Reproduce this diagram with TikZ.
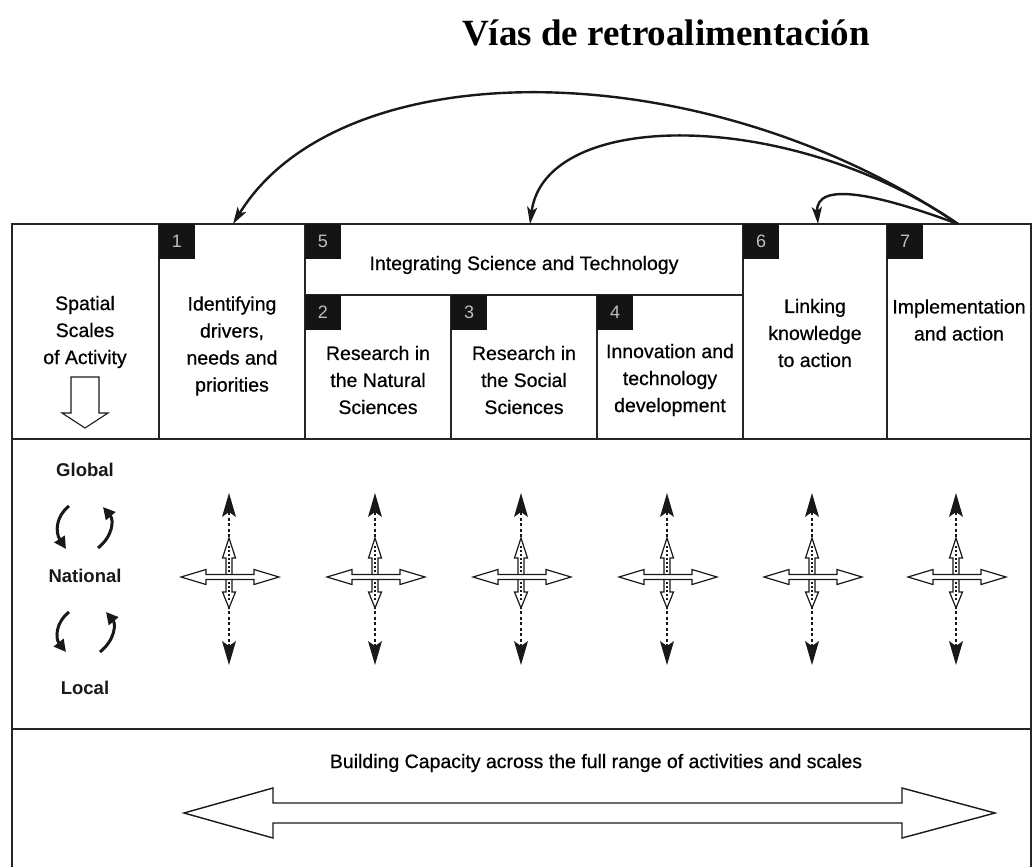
\documentclass[tikz,border=0pt]{standalone}
\usepackage{fontspec}
\setmainfont{Liberation Sans}
\newfontfamily\boxfont[FakeBold=0.6]{Liberation Sans}
\newfontfamily\titlefont{Liberation Serif}
\usetikzlibrary{arrows.meta}
\begin{document}
\begin{tikzpicture}[x=1pt,y=-1pt,
  frame/.style={line width=1.6pt, draw=black!85},
  boxtext/.style={align=center, font=\boxfont\fontsize{19.5}{27}\selectfont, inner sep=0pt, text=black},
  numsq/.style={fill=black!92, minimum width=36pt, minimum height=35pt, inner sep=0pt, text=black!25, font=\fontsize{18}{18}\selectfont},
  scaletext/.style={font=\bfseries\fontsize{18.5}{18.5}\selectfont, inner sep=0pt, text=black!90},
  feedback/.style={line width=2.4pt, draw=black!90, -{Stealth[length=17pt,width=10pt,inset=4pt]}},
  cycarrow/.style={line width=3pt, draw=black!90, -{Triangle[length=12pt,width=12pt]}},
  hollow/.style={draw=black!90, line width=1.3pt, fill=white},
  vdots/.style={line width=1.7pt, draw=black!90, dash pattern=on 3pt off 2.5pt},
]
\useasboundingbox (0,0) rectangle (1033,867);
\fill[white] (0,0) rectangle (1033,867);

% title
\node[font=\titlefont\bfseries\fontsize{37}{37}\selectfont, inner sep=0pt] (title) at (666,33) {Vías de retroalimentación};

% frame and grid
\draw[frame] (12,867) -- (12,224) -- (1031,224) -- (1031,867);
\draw[frame] (12,439) -- (1031,439);
\draw[frame] (12,729) -- (1031,729);
\draw[frame] (159,224) -- (159,439);
\draw[frame] (305,224) -- (305,439);
\draw[frame] (743,224) -- (743,439);
\draw[frame] (887,224) -- (887,439);
\draw[frame] (305,295) -- (743,295);
\draw[frame] (451,295) -- (451,439);
\draw[frame] (597,295) -- (597,439);

% number squares
\node[numsq] (n1) at (177,241.5) {1};
\node[numsq] (n5) at (323,241.5) {5};
\node[numsq] (n2) at (323,312.5) {2};
\node[numsq] (n3) at (469,312.5) {3};
\node[numsq] (n4) at (615,312.5) {4};
\node[numsq] (n6) at (761,241.5) {6};
\node[numsq] (n7) at (905,241.5) {7};

% box texts
\node[boxtext] (spatial) at (85,332) {Spatial\\Scales\\of Activity};
\node[boxtext] (identify) at (232,346) {Identifying\\drivers,\\needs and\\priorities};
\node[boxtext] (integr) at (524,265) {Integrating Science and Technology};
\node[boxtext] (natural) at (378,380) {Research in\\the Natural\\Sciences};
\node[boxtext] (social) at (524,380) {Research in\\the Social\\Sciences};
\node[boxtext] (innov) at (670,380) {Innovation and\\technology\\development};
\node[boxtext] (linking) at (815,333) {Linking\\knowledge\\to action};
\node[boxtext] (impl) at (959,320) {Implementation\\and action};

% spatial down arrow
\draw[hollow, line width=1.1pt] (71,377) -- (99,377) -- (99,413) -- (108,413) -- (85,428) -- (62,413) -- (71,413) -- cycle;

% scale labels
\node[scaletext] (global) at (85,470) {Global};
\node[scaletext] (national) at (85,576) {National};
\node[scaletext] (local) at (85,688) {Local};

% cycle arrows
\draw[cycarrow] (69,506) .. controls (56,516) and (55,532) .. (66,549);
\draw[cycarrow] (98,548) .. controls (113,536) and (114,520) .. (103,507);
\draw[cycarrow] (69,612) .. controls (56,622) and (55,638) .. (66,652);
\draw[cycarrow] (100,652) .. controls (115,640) and (116,624) .. (106,612);

% crosses
\foreach \c in {229,375,521,667,812,956} {
  \draw[vdots] (\c,512) -- (\c,646);
  \fill[black!90] ({\c},493) -- ({\c+7},517) -- ({\c},512) -- ({\c-7},517) -- cycle;
  \fill[black!90] ({\c},665) -- ({\c+7},641) -- ({\c},646) -- ({\c-7},641) -- cycle;
  \draw[hollow, line width=1.2pt] ({\c},538) -- ({\c+6.5},558) -- ({\c+3},558) -- ({\c+3},592) -- ({\c+6.5},592) -- ({\c},608) -- ({\c-6.5},592) -- ({\c-3},592) -- ({\c-3},558) -- ({\c-6.5},558) -- cycle;
  \draw[line width=1.5pt, draw=black!90, dash pattern=on 2pt off 2pt] ({\c},546) -- ({\c},601);
  \draw[hollow, line width=1.2pt] ({\c-48},577) -- ({\c-23},569.5) -- ({\c-23},574.5) -- ({\c+25},574.5) -- ({\c+25},569.5) -- ({\c+50},577) -- ({\c+25},584.5) -- ({\c+25},579.5) -- ({\c-23},579.5) -- ({\c-23},584.5) -- cycle;
}

% capacity
\node[boxtext] (capacity) at (596,763) {Building Capacity across the full range of activities and scales};
\draw[hollow, line width=1.4pt] (184,813) -- (273,788) -- (273,803) -- (902,803) -- (902,788) -- (995,813) -- (902,838) -- (902,823) -- (273,823) -- (273,838) -- cycle;

% feedback arcs
\coordinate (apex) at (958,224);
\coordinate (to1) at (233,224);
\coordinate (to5) at (530,224);
\coordinate (to6) at (818,224);
\draw[feedback] (apex) .. controls (700,50) and (340,50) .. (to1);
\draw[feedback] (apex) .. controls (790,108) and (545,108) .. (to5);
\draw[feedback] (apex) .. controls (880,195) and (815,180) .. (to6);
\end{tikzpicture}
\end{document}
